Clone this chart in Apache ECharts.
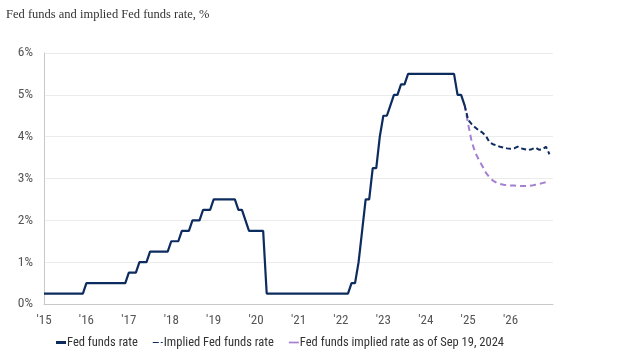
<!DOCTYPE html>
<html>
<head>
<meta charset="utf-8">
<script src="https://cdn.jsdelivr.net/npm/echarts@6/dist/echarts.min.js"></script>
<style>
  html, body { margin: 0; padding: 0; background: #fff; }
  #chart { width: 624px; height: 355px; }
</style>
</head>
<body>
<div id="chart"></div>
<script>
// ---- Data (monthly, beginning-of-month upper bound, %) ----
const fedStart = '2015-01';
const fedFunds = [
  0.25,0.25,0.25,0.25,0.25,0.25,0.25,0.25,0.25,0.25,0.25,0.25,           // 2015
  0.5,0.5,0.5,0.5,0.5,0.5,0.5,0.5,0.5,0.5,0.5,0.5,                       // 2016
  0.75,0.75,0.75,1.0,1.0,1.0,1.25,1.25,1.25,1.25,1.25,1.25,              // 2017
  1.5,1.5,1.5,1.75,1.75,1.75,2.0,2.0,2.0,2.25,2.25,2.25,                 // 2018
  2.5,2.5,2.5,2.5,2.5,2.5,2.5,2.25,2.25,2.0,1.75,1.75,                   // 2019
  1.75,1.75,1.75,0.25,0.25,0.25,0.25,0.25,0.25,0.25,0.25,0.25,           // 2020
  0.25,0.25,0.25,0.25,0.25,0.25,0.25,0.25,0.25,0.25,0.25,0.25,           // 2021
  0.25,0.25,0.25,0.5,0.5,1.0,1.75,2.5,2.5,3.25,3.25,4.0,                 // 2022
  4.5,4.5,4.75,5.0,5.0,5.25,5.25,5.5,5.5,5.5,5.5,5.5,                    // 2023
  5.5,5.5,5.5,5.5,5.5,5.5,5.5,5.5,5.5,5.0,5.0,4.75                       // 2024
];
const impliedStart = '2024-12';
const impliedRate = [
  4.75,                                                                  // Dec 2024
  4.40,4.30,4.22,4.15,4.10,4.02,3.87,3.82,3.79,3.76,3.74,3.72,           // 2025
  3.71,3.72,3.76,3.72,3.70,3.68,3.70,3.74,3.69,3.70,3.76,3.58            // 2026
];
const septStart = '2024-12';
const septImplied = [
  4.75,                                                                  // Dec 2024
  4.30,3.88,3.62,3.45,3.30,3.14,3.03,2.95,2.90,2.87,2.85,2.84,           // 2025
  2.83,2.83,2.82,2.82,2.82,2.82,2.83,2.85,2.87,2.89,2.91                 // 2026
];
const yearTicks = [2015,2016,2017,2018,2019,2020,2021,2022,2023,2024,2025,2026];
const yTicks = [0,1,2,3,4,5,6];
const seriesNames = ['Fed funds rate', 'Implied Fed funds rate', 'Fed funds implied rate as of Sep 19, 2024'];

// month series -> [decimal year, value]
function toPairs(start, vals) {
  const [y0, m0] = start.split('-').map(Number);
  return vals.map((v, i) => {
    const mi = (m0 - 1) + i;
    return [y0 + mi / 12, v];
  });
}

const NAVY = '#0c2b5f';
const PURPLE = '#a47fd2';
const LABEL_FONT = "'Liberation Sans Narrow', 'Roboto Condensed', Roboto, sans-serif";

const chart = echarts.init(document.getElementById('chart'), null, { renderer: 'canvas' });
chart.setOption({
  animation: false,
  backgroundColor: '#ffffff',
  title: {
    text: 'Fed funds and implied Fed funds rate, %',
    left: 1, top: 3,
    textStyle: { fontFamily: "'Liberation Serif', serif", fontSize: 12.5, fontWeight: 'normal', color: '#333333' }
  },
  grid: { left: 44, right: 71, top: 53, bottom: 51 },
  xAxis: {
    type: 'value',
    min: yearTicks[0],
    max: yearTicks[yearTicks.length - 1] + 1,
    interval: 1,
    axisLine: { show: true, lineStyle: { color: '#c8c8c8', width: 1 } },
    axisTick: { show: false },
    splitLine: { show: false },
    axisLabel: {
      margin: 10,
      showMaxLabel: false,
      color: '#555555',
      fontFamily: LABEL_FONT,
      fontSize: 13,
      formatter: v => yearTicks.includes(v) ? "'" + String(v).slice(2) : ''
    }
  },
  yAxis: {
    type: 'value',
    min: yTicks[0],
    max: yTicks[yTicks.length - 1],
    interval: 1,
    axisLine: { show: true, lineStyle: { color: '#c8c8c8', width: 1 } },
    axisTick: { show: false },
    splitLine: { show: true, lineStyle: { color: '#ececec', width: 1 } },
    axisLabel: {
      margin: 11,
      color: '#555555',
      fontFamily: LABEL_FONT,
      fontSize: 13.5,
      formatter: v => v + '%'
    }
  },
  legend: {
    left: 51, top: 331,
    itemWidth: 10, itemHeight: 3, itemGap: 15,
    textStyle: { fontFamily: LABEL_FONT, fontSize: 12.5, color: '#333333', padding: [0, 0, 0, -4] },
    data: [
      { name: seriesNames[0], icon: 'rect' },
      { name: seriesNames[1], icon: 'path://M0,0H6V1H0Z M8,0H10V1H8Z' },
      { name: seriesNames[2], icon: 'path://M2,0H8V1H2Z' }
    ]
  },
  series: [
    {
      name: seriesNames[2], type: 'line', data: toPairs(septStart, septImplied),
      showSymbol: false, symbol: 'none', z: 2,
      lineStyle: { color: PURPLE, width: 2, type: [6, 4] }, itemStyle: { color: PURPLE }
    },
    {
      name: seriesNames[1], type: 'line', data: toPairs(impliedStart, impliedRate),
      showSymbol: false, symbol: 'none', z: 3,
      lineStyle: { color: NAVY, width: 2, type: [5, 3] }, itemStyle: { color: NAVY }
    },
    {
      name: seriesNames[0], type: 'line', data: toPairs(fedStart, fedFunds),
      showSymbol: false, symbol: 'none', z: 4,
      lineStyle: { color: NAVY, width: 2.2 }, itemStyle: { color: NAVY }
    }
  ]
});
</script>
</body>
</html>
